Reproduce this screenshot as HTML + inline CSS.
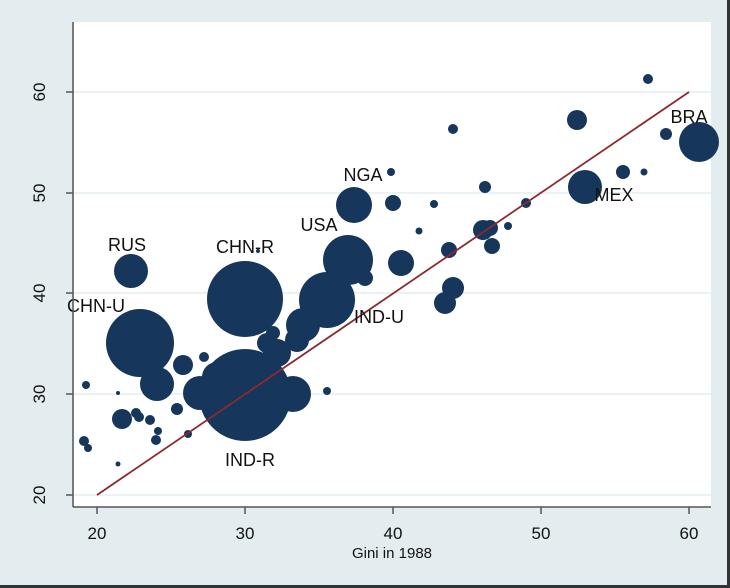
<!DOCTYPE html>
<html><head><style>
html,body{margin:0;padding:0;background:#e3edef;}
svg{display:block;}
text{font-family:"Liberation Sans",sans-serif;fill:#111;}
</style></head><body>
<svg width="730" height="588" viewBox="0 0 730 588" xmlns="http://www.w3.org/2000/svg">
<rect width="730" height="588" fill="#e3edef"/>
<rect x="727" y="0" width="3" height="588" fill="#333"/>
<rect x="0" y="585" width="730" height="3" fill="#333"/>
<rect x="74" y="22" width="637" height="485" fill="#fff"/>
<g stroke="#e3edef" stroke-width="1.5">
<line x1="74" y1="92" x2="711" y2="92"/><line x1="74" y1="193" x2="711" y2="193"/>
<line x1="74" y1="293" x2="711" y2="293"/><line x1="74" y1="394" x2="711" y2="394"/>
<line x1="74" y1="495" x2="711" y2="495"/>
</g>
<g fill="#16365c">
<circle cx="140" cy="343" r="34"/><circle cx="131" cy="271" r="17"/>
<circle cx="157" cy="384" r="17"/><circle cx="183" cy="365" r="10"/>
<circle cx="204" cy="357" r="5"/><circle cx="86" cy="385" r="4"/>
<circle cx="118" cy="393" r="2"/><circle cx="122" cy="419" r="10"/>
<circle cx="136" cy="413" r="5"/><circle cx="139" cy="417" r="5"/>
<circle cx="150" cy="420" r="5"/><circle cx="177" cy="409" r="6"/>
<circle cx="158" cy="431" r="4"/><circle cx="156" cy="440" r="5"/>
<circle cx="188" cy="434" r="4"/><circle cx="84" cy="441" r="5"/>
<circle cx="88" cy="448" r="4"/><circle cx="118" cy="464" r="2.5"/>
<circle cx="245" cy="299" r="38"/><circle cx="258" cy="251" r="2"/>
<circle cx="200" cy="393" r="17"/><circle cx="217" cy="377" r="15"/>
<circle cx="245" cy="395" r="46"/><circle cx="293" cy="394" r="18"/>
<circle cx="277" cy="353" r="14"/><circle cx="267" cy="343" r="10"/>
<circle cx="273" cy="333" r="7"/><circle cx="297" cy="340" r="12"/>
<circle cx="303" cy="325" r="17"/><circle cx="327" cy="300" r="28"/>
<circle cx="343" cy="262" r="12"/><circle cx="348" cy="260" r="25"/>
<circle cx="365" cy="278" r="8"/><circle cx="327" cy="391" r="4"/>
<circle cx="354" cy="205" r="18"/><circle cx="453" cy="129" r="5"/>
<circle cx="391" cy="172" r="4"/><circle cx="393" cy="203" r="8"/>
<circle cx="434" cy="204" r="4"/><circle cx="485" cy="187" r="6"/>
<circle cx="526" cy="203" r="5"/><circle cx="419" cy="231" r="3.5"/>
<circle cx="401" cy="263" r="13"/><circle cx="449" cy="250" r="8"/>
<circle cx="483" cy="230" r="10"/><circle cx="490" cy="228" r="8"/>
<circle cx="492" cy="246" r="8"/><circle cx="508" cy="226" r="4"/>
<circle cx="453" cy="288" r="11"/><circle cx="445" cy="303" r="11"/>
<circle cx="648" cy="79" r="5"/><circle cx="577" cy="120" r="10"/>
<circle cx="699" cy="142" r="20"/><circle cx="666" cy="134" r="6"/>
<circle cx="623" cy="172" r="7"/><circle cx="644" cy="172" r="3.5"/>
<circle cx="585" cy="187" r="17"/>
</g>
<line x1="97" y1="495" x2="689" y2="92" stroke="#8b2a2e" stroke-width="1.8"/>
<g font-size="18" text-anchor="middle">
<text x="127" y="251">RUS</text><text x="96" y="312">CHN-U</text>
<text x="245" y="253">CHN-R</text><text x="319" y="231">USA</text>
<text x="363" y="181">NGA</text><text x="379" y="323">IND-U</text>
<text x="250" y="466">IND-R</text><text x="614" y="201">MEX</text>
<text x="689" y="123">BRA</text>
</g>
<g stroke="#555" stroke-width="1.5" fill="none">
<line x1="73" y1="22" x2="73" y2="507"/><line x1="73" y1="507" x2="711" y2="507"/>
<line x1="66" y1="92" x2="73" y2="92"/><line x1="66" y1="193" x2="73" y2="193"/>
<line x1="66" y1="293" x2="73" y2="293"/><line x1="66" y1="394" x2="73" y2="394"/>
<line x1="66" y1="495" x2="73" y2="495"/>
<line x1="97" y1="507" x2="97" y2="514"/><line x1="245" y1="507" x2="245" y2="514"/>
<line x1="393" y1="507" x2="393" y2="514"/><line x1="541" y1="507" x2="541" y2="514"/>
<line x1="689" y1="507" x2="689" y2="514"/>
</g>
<g font-size="17" text-anchor="middle">
<text transform="translate(45,92) rotate(-90)">60</text>
<text transform="translate(45,193) rotate(-90)">50</text>
<text transform="translate(45,293) rotate(-90)">40</text>
<text transform="translate(45,394) rotate(-90)">30</text>
<text transform="translate(45,495) rotate(-90)">20</text>
<text x="97" y="539">20</text><text x="245" y="539">30</text>
<text x="393" y="539">40</text><text x="541" y="539">50</text>
<text x="689" y="539">60</text>
</g>
<text x="392" y="558" font-size="15" text-anchor="middle">Gini in 1988</text>
</svg>
</body></html>
